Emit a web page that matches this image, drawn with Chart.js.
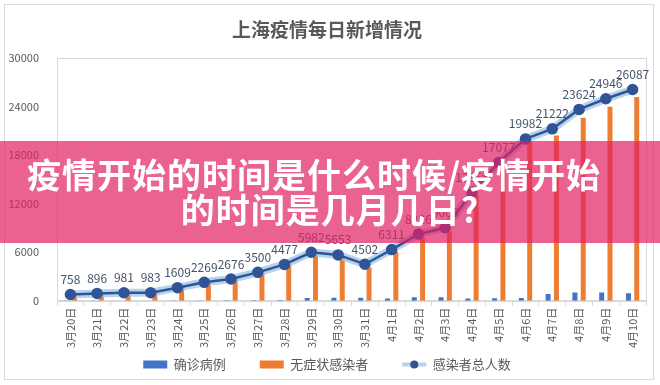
<!DOCTYPE html>
<html>
<head>
<meta charset="utf-8">
<script src="https://cdn.jsdelivr.net/npm/chart.js@4/dist/chart.umd.min.js"></script>
<style>
  body { margin: 0; background: #fff; }
  #wrap { position: relative; width: 660px; height: 385px; }
  #frame { position: absolute; left: 4px; top: 4px; width: 650px; height: 376px; border: 1px solid #d9d9d9; box-sizing: border-box; }
  #banner {
    position: absolute; left: 0; top: 141px; width: 660px; height: 102px;
    background: rgba(225, 32, 98, 0.7);
    color: #fff; text-align: center;
    font: bold 34px "Noto Sans CJK SC", sans-serif; letter-spacing: 1px;
    line-height: 35px; padding-top: 15px; box-sizing: border-box;
  }
  #banner span { position: relative; left: -16px; }
</style>
</head>
<body>
<div id="wrap">
  <div id="frame"></div>
  <canvas id="myChart" width="660" height="385"></canvas>
  <div id="banner"><span>疫情开始的时间是什么时候/疫情开始</span><br>的时间是几月几日?</div>
</div>
<script>
// 数据
var days = ['3月20日', '3月21日', '3月22日', '3月23日', '3月24日', '3月25日', '3月26日', '3月27日',
  '3月28日', '3月29日', '3月30日', '3月31日', '4月1日', '4月2日', '4月3日', '4月4日',
  '4月5日', '4月6日', '4月7日', '4月8日', '4月9日', '4月10日'];
var confirmed = [24, 31, 4, 4, 29, 38, 45, 50, 96, 326, 355, 358, 260, 438, 425, 268, 311, 322, 824, 1015, 1006, 914];
var asymptomatic = [734, 865, 977, 979, 1580, 2231, 2631, 3450, 4381, 5656, 5298, 4144, 6051, 7788, 8581, 13086, 16766, 19660, 20398, 22609, 23940, 25173];
var total = [758, 896, 981, 983, 1609, 2269, 2676, 3500, 4477, 5982, 5653, 4502, 6311, 8226, 9006, 13354, 17077, 19982, 21222, 23624, 24946, 26087];
var yTicks = [0, 6000, 12000, 18000, 24000, 30000];

var fontCN = '"Noto Sans CJK SC", "Noto Sans", sans-serif';
var glowColor = 'rgba(157, 195, 230, 0.75)';
var lineColor = '#2F5597';

// 绘图区边框
var plotBorder = {
  id: 'plotBorder',
  beforeDatasetsDraw: function (chart) {
    var a = chart.chartArea, c = chart.ctx;
    c.save();
    c.strokeStyle = '#d9d9d9';
    c.lineWidth = 1;
    c.strokeRect(Math.round(a.left) + 0.5, Math.round(a.top) + 0.5, Math.round(a.right - a.left), Math.round(a.bottom - a.top));
    c.restore();
  }
};

// 折线上的数值标签 + 图例中折线的圆点
var pointLabels = {
  id: 'pointLabels',
  afterDatasetsDraw: function (chart) {
    var c = chart.ctx;
    var meta = chart.getDatasetMeta(3);
    c.save();
    c.font = '12px ' + fontCN;
    c.fillStyle = '#44546A';
    c.textAlign = 'center';
    c.textBaseline = 'bottom';
    meta.data.forEach(function (pt, i) {
      c.fillText(total[i], pt.x, pt.y - 9);
    });
    c.restore();
  },
  afterDraw: function (chart) {
    var lg = chart.legend;
    if (!lg || !lg.legendHitBoxes) return;
    var box = lg.legendHitBoxes[2];
    if (!box) return;
    var c = chart.ctx;
    c.save();
    c.fillStyle = lineColor;
    c.beginPath();
    c.arc(box.left + 12, box.top + box.height / 2, 4, 0, Math.PI * 2);
    c.fill();
    c.restore();
  }
};

var ctx = document.getElementById('myChart').getContext('2d');
var myChart = new Chart(ctx, {
  data: {
    labels: days,
    datasets: [{
      type: 'bar',
      label: '确诊病例',
      data: confirmed,
      backgroundColor: '#4472C4',
      barPercentage: 0.6,
      categoryPercentage: 0.62,
      order: 3
    }, {
      type: 'bar',
      label: '无症状感染者',
      data: asymptomatic,
      backgroundColor: '#ED7D31',
      barPercentage: 0.6,
      categoryPercentage: 0.62,
      order: 3
    }, {
      type: 'line',
      label: 'glow',
      data: total,
      borderColor: glowColor,
      borderWidth: 8,
      pointRadius: 0,
      tension: 0,
      order: 2
    }, {
      type: 'line',
      label: '感染者总人数',
      data: total,
      borderColor: lineColor,
      backgroundColor: lineColor,
      borderWidth: 2.5,
      pointRadius: 4.5,
      pointBackgroundColor: lineColor,
      pointBorderColor: lineColor,
      tension: 0,
      order: 1
    }]
  },
  options: {
    responsive: false,
    animation: false,
    layout: { padding: { left: 8, right: 14, top: 0, bottom: 4 } },
    plugins: {
      title: {
        display: true,
        text: '上海疫情每日新增情况',
        color: '#595959',
        font: { family: fontCN, size: 19, weight: 'bold' },
        padding: { top: 18, bottom: 17 }
      },
      legend: {
        position: 'bottom',
        labels: {
          color: '#595959',
          font: { family: fontCN, size: 13 },
          usePointStyle: true,
          pointStyleWidth: 24,
          boxHeight: 8,
          padding: 8,
          filter: function (item) { return item.datasetIndex !== 2; },
          sort: function (a, b) { return a.datasetIndex - b.datasetIndex; },
          generateLabels: function (chart) {
            var items = Chart.defaults.plugins.legend.labels.generateLabels(chart);
            items.forEach(function (it) {
              if (it.datasetIndex === 3) {
                it.pointStyle = 'line';
                it.strokeStyle = glowColor;
                it.lineWidth = 4;
              } else if (it.datasetIndex < 2) {
                it.pointStyle = 'rect';
                it.lineWidth = 0;
                it.text = it.text + '\u3000\u3000';
              }
            });
            return items;
          }
        }
      },
      tooltip: { enabled: false }
    },
    scales: {
      x: {
        grid: { display: true, drawOnChartArea: false, offset: true, tickLength: 5, color: '#d9d9d9' },
        border: { color: '#d9d9d9' },
        ticks: { color: '#595959', font: { family: fontCN, size: 11 }, minRotation: 90, maxRotation: 90, autoSkip: false, padding: 2 }
      },
      y: {
        min: 0,
        max: 30000,
        afterBuildTicks: function (axis) {
          axis.ticks = yTicks.map(function (v) { return { value: v }; });
        },
        afterFit: function (axis) { axis.width = 49; },
        grid: { display: false },
        border: { display: false },
        ticks: {
          color: '#595959', font: { family: fontCN, size: 11 }, padding: 10,
          callback: function (v) { return String(v); }
        }
      }
    }
  },
  plugins: [plotBorder, pointLabels]
});
</script>
</body>
</html>
